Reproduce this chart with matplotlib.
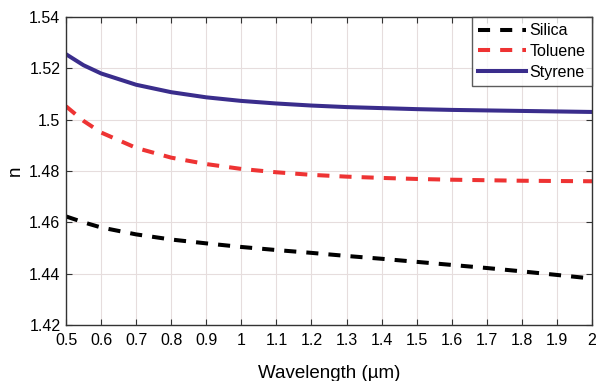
import matplotlib
matplotlib.use("Agg")
import matplotlib.pyplot as plt

plt.rcParams['font.family'] = ['Liberation Sans', 'DejaVu Sans']

wavelength = [0.5, 0.55, 0.6, 0.7, 0.8, 0.9, 1.0, 1.1, 1.2, 1.3, 1.4, 1.5, 1.6, 1.7, 1.8, 1.9, 2.0]
silica = [1.4623, 1.4600, 1.4580, 1.4553, 1.4533, 1.4518, 1.4504, 1.4492, 1.4481, 1.4469,
          1.4458, 1.4446, 1.4434, 1.4422, 1.4409, 1.4395, 1.4381]
toluene = [1.5052, 1.4995, 1.4950, 1.4890, 1.4852, 1.4827, 1.4808, 1.4795, 1.4785, 1.4778,
           1.4773, 1.4769, 1.4766, 1.4764, 1.4762, 1.4761, 1.4760]
styrene = [1.5255, 1.5212, 1.5180, 1.5136, 1.5107, 1.5087, 1.5073, 1.5063, 1.5055, 1.5049,
           1.5045, 1.5041, 1.5038, 1.5036, 1.5034, 1.5032, 1.5030]

xticks = [0.5, 0.6, 0.7, 0.8, 0.9, 1, 1.1, 1.2, 1.3, 1.4, 1.5, 1.6, 1.7, 1.8, 1.9, 2]
xticklabels = ['0.5', '0.6', '0.7', '0.8', '0.9', '1', '1.1', '1.2', '1.3', '1.4', '1.5',
               '1.6', '1.7', '1.8', '1.9', '2']
yticks = [1.42, 1.44, 1.46, 1.48, 1.5, 1.52, 1.54]
yticklabels = ['1.42', '1.44', '1.46', '1.48', '1.5', '1.52', '1.54']

fig = plt.figure(figsize=(5.97, 3.81), dpi=100)
ax = fig.add_axes([0.1106, 0.147, 0.8810, 0.8084])

dash = (0, (3.0, 2.5))
ax.plot(wavelength, silica, color='black', lw=2.9, ls=dash, label='Silica')
ax.plot(wavelength, toluene, color='#ee3333', lw=2.9, ls=dash, label='Toluene')
ax.plot(wavelength, styrene, color='#3a2d8c', lw=2.9, ls='-', label='Styrene')

ax.set_xlim(0.5, 2)
ax.set_ylim(1.42, 1.54)
ax.set_xticks(xticks)
ax.set_xticklabels(xticklabels)
ax.set_yticks(yticks)
ax.set_yticklabels(yticklabels)
ax.grid(True, color='#e6dddd', lw=0.8)
ax.tick_params(direction='in', top=True, right=True, labelsize=11.5, length=4,
               color='#333333', width=0.8)
ax.tick_params(axis='x', pad=6)
ax.tick_params(axis='y', pad=4)
for s in ax.spines.values():
    s.set_color('#333333')
    s.set_linewidth(1.0)

ax.set_xlabel('Wavelength (µm)', fontsize=13.5, labelpad=12)
ax.set_ylabel('n', fontsize=13.5, labelpad=4)

leg = ax.legend(loc='upper right', fontsize=11.5, frameon=True, fancybox=False,
                borderaxespad=0, handlelength=3.0, handletextpad=0.2,
                labelspacing=0.35, borderpad=0.4)
leg.get_frame().set_edgecolor('#333333')
leg.get_frame().set_linewidth(1.0)

fig.savefig('out.png', dpi=100)
